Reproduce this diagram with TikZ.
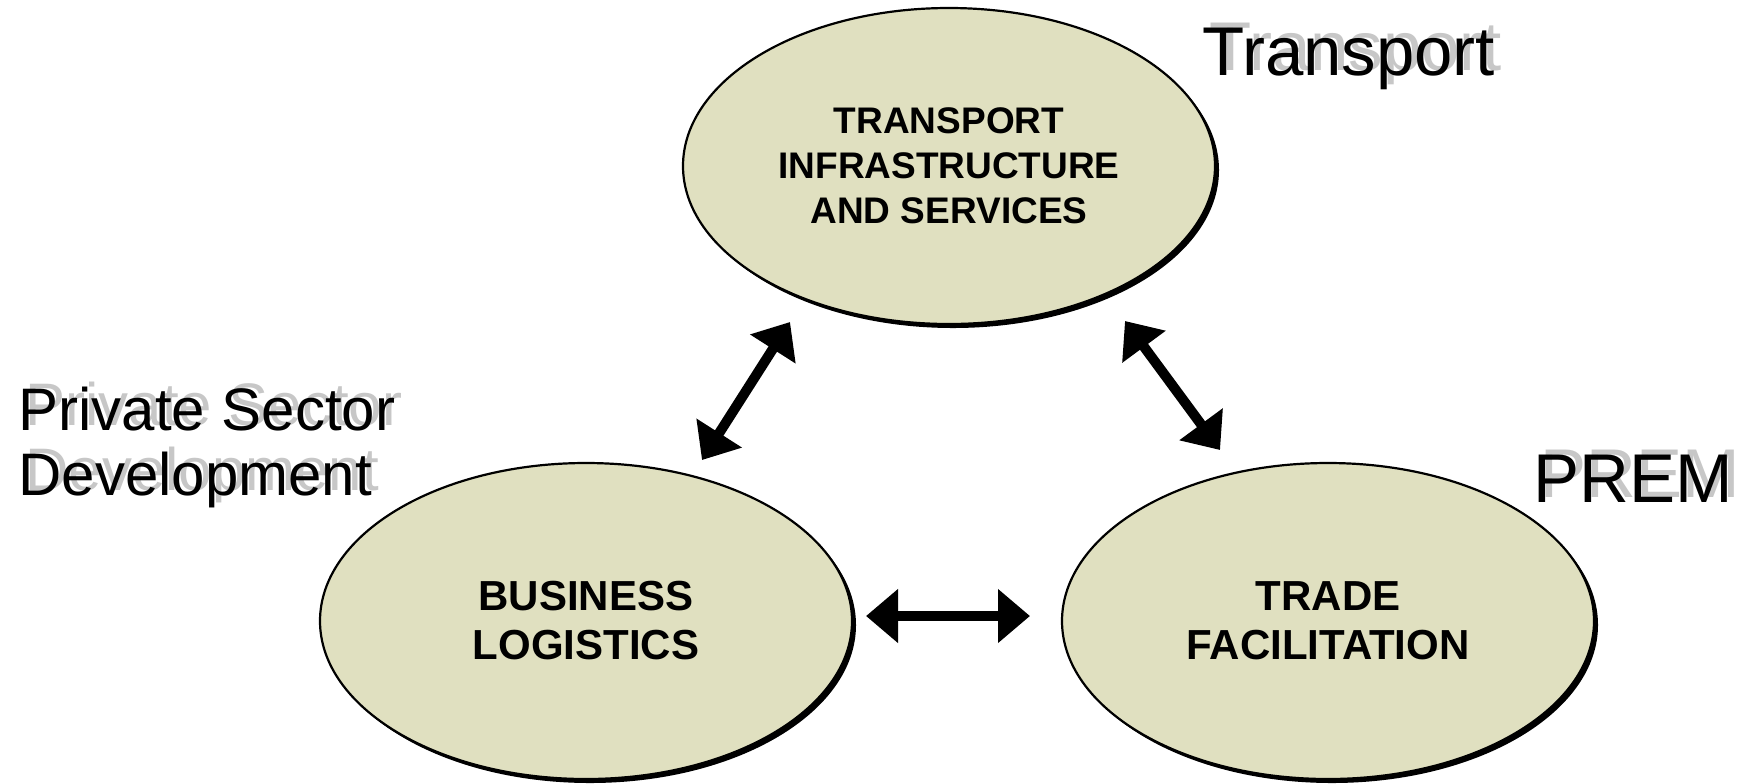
\documentclass[tikz,border=0pt]{standalone}
\usepackage{fontspec}
\setmainfont{Liberation Sans}
\usetikzlibrary{shapes.geometric,arrows.meta,shadows}
\definecolor{olivefill}{RGB}{224,224,192}
\begin{document}
\begin{tikzpicture}[x=0.5pt,y=-0.5pt,
  circ/.style={ellipse, draw=black, line width=1.1pt, fill=olivefill,
    minimum width=266pt, minimum height=158pt, inner sep=0pt, align=center,
    drop shadow={shadow xshift=2pt, shadow yshift=-2pt, fill=black, opacity=1}},
  dbl/.style={{Triangle[length=16pt,width=26pt]}-{Triangle[length=16pt,width=26pt]}, line width=5pt},
  lab/.style={anchor=base west, inner sep=0pt, text=black},
  labsh/.style={anchor=base west, inner sep=0pt, text=black!22}]
\useasboundingbox (0,0) rectangle (1748,783);
% ellipses
\node[circ, font=\bfseries\fontsize{18.5}{22.5}\selectfont] (tis) at (949,166) {TRANSPORT\\INFRASTRUCTURE\\AND SERVICES};
\node[circ, font=\bfseries\fontsize{21}{24.5}\selectfont] (bl) at (586,621) {BUSINESS\\LOGISTICS};
\node[circ, font=\bfseries\fontsize{21}{24.5}\selectfont] (tf) at (1328,621) {TRADE\\FACILITATION};
% arrow end points
\coordinate (a1) at (702,460);
\coordinate (a2) at (790,322);
\coordinate (b1) at (1125,321);
\coordinate (b2) at (1220,450);
\coordinate (c1) at (866,616);
\coordinate (c2) at (1030,616);
\draw[dbl] (a1) -- (a2);
\draw[dbl] (b1) -- (b2);
\draw[dbl] (c1) -- (c2);
% soft shadows of labels
\node[labsh, font=\fontsize{34.5}{40}\selectfont] (tsh) at (1209,70) {Transport};
\node[labsh, font=\fontsize{34.5}{40}\selectfont] (psh) at (1540,497) {PREM};
\node[labsh, font=\fontsize{30}{33}\selectfont] (pash) at (25,425) {Private Sector};
\node[labsh, font=\fontsize{30}{33}\selectfont] (pbsh) at (25,490) {Development};
% labels
\node[lab, font=\fontsize{34.5}{40}\selectfont] (tlab) at (1202,75) {Transport};
\node[lab, font=\fontsize{34.5}{40}\selectfont] (plab) at (1533,502) {PREM};
\node[lab, font=\fontsize{30}{33}\selectfont] (psd1) at (18,430) {Private Sector};
\node[lab, font=\fontsize{30}{33}\selectfont] (psd2) at (18,495) {Development};
\end{tikzpicture}
\end{document}
